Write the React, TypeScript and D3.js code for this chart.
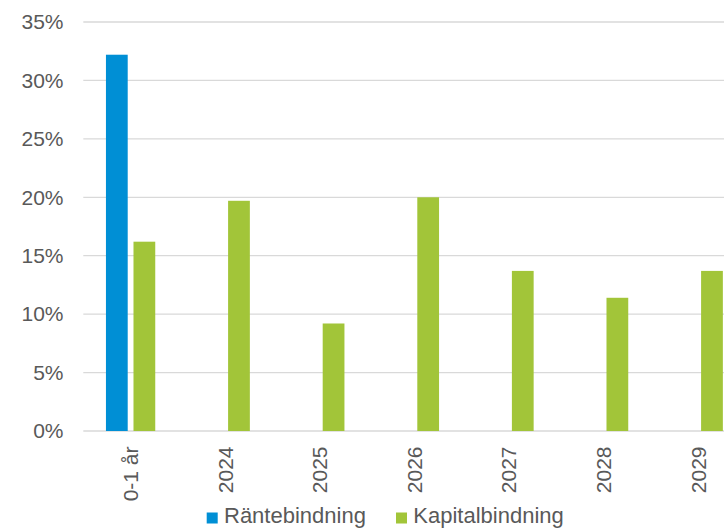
import React from "react";
import * as d3 from "d3";

const categories = ["0-1 år", "2024", "2025", "2026", "2027", "2028", "2029"];
const seriesNames = ["Räntebindning", "Kapitalbindning"];
const ranteValues = [32.2, 0, 0, 0, 0, 0, 0];
const kapitalValues = [16.2, 19.7, 9.2, 20.0, 13.7, 11.4, 13.7];
const yTicks = [0, 5, 10, 15, 20, 25, 30, 35];
const colors = ["#008FD5", "#A2C539"];

const W = 724;
const H = 528;
const left = 83.3;
const right = 745.5;
const top = 22;
const bottom = 431;
const font = "'Liberation Sans', Arial, sans-serif";
const textColor = "#595959";

export default function App() {
  const x0 = d3.scaleBand<string>().domain(categories).range([left, right]).paddingInner(0).paddingOuter(0);
  const step = x0.bandwidth();
  const groupW = 49.3;
  const x1 = d3
    .scaleBand<string>()
    .domain(seriesNames)
    .range([(step - groupW) / 2, (step + groupW) / 2])
    .paddingInner(0.21)
    .paddingOuter(0);
  const y = d3.scaleLinear().domain([0, 35]).range([bottom, top]);
  const series = [ranteValues, kapitalValues];

  return (
    <svg
      width={W}
      height={H}
      style={{ position: "absolute", left: 0, top: 0, display: "block", background: "#fff" }}
      fontFamily={font}
    >
      {yTicks.map((t) => (
        <g key={t}>
          <line x1={left} x2={W} y1={y(t)} y2={y(t)} stroke="#D9D9D9" strokeWidth={1.3} />
          <text x={63.5} y={y(t)} dy="0.35em" textAnchor="end" fontSize={21} fill={textColor}>
            {t}%
          </text>
        </g>
      ))}
      {series.map((vals, si) =>
        vals.map((v, ci) =>
          v > 0 ? (
            <rect
              key={`${si}-${ci}`}
              x={(x0(categories[ci]) as number) + (x1(seriesNames[si]) as number)}
              y={y(v)}
              width={x1.bandwidth()}
              height={y(0) - y(v)}
              fill={colors[si]}
            />
          ) : null
        )
      )}
      {categories.map((c) => {
        const cx = (x0(c) as number) + step / 2;
        return (
          <text
            key={c}
            transform={`translate(${cx},446.5) rotate(-90)`}
            dy="0.35em"
            textAnchor="end"
            fontSize={21}
            fill={textColor}
          >
            {c}
          </text>
        );
      })}
      <g>
        <rect x={206.7} y={512.5} width={11} height={11} fill={colors[0]} />
        <text x={224} y={523} fontSize={22} fill={textColor}>
          {seriesNames[0]}
        </text>
        <rect x={396} y={512.5} width={11} height={11} fill={colors[1]} />
        <text x={413.3} y={523} fontSize={22} fill={textColor}>
          {seriesNames[1]}
        </text>
      </g>
    </svg>
  );
}
